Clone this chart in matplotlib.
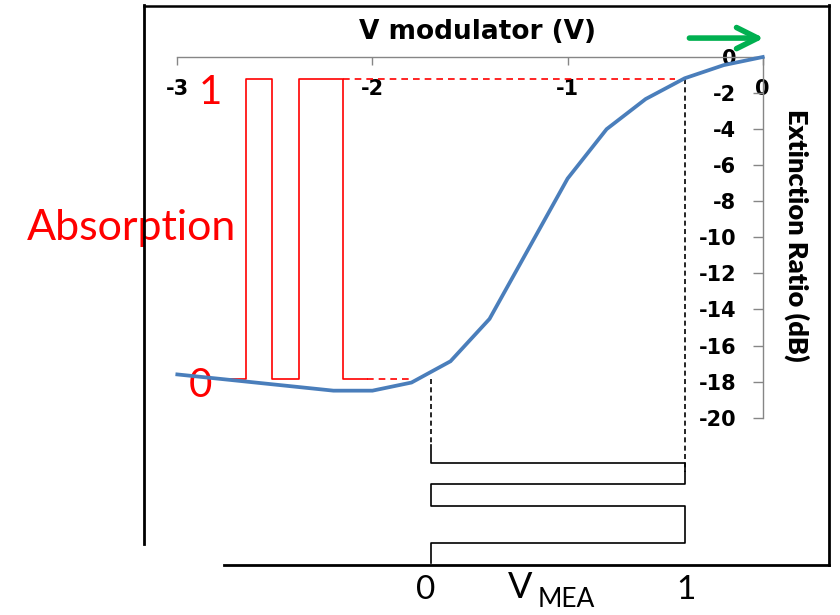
import matplotlib
matplotlib.use('Agg')
import matplotlib.pyplot as plt
from matplotlib.lines import Line2D

# ----- Data
# transfer curve of the modulator: voltage (V) -> extinction ratio (dB)
v_mod = [-3.0, -2.2, -2.0, -1.8, -1.6, -1.4, -1.0, -0.8, -0.6, -0.4, -0.2, 0.0]
er_db = [-17.6, -18.5, -18.5, -18.05, -16.87, -14.52, -6.74, -4.0, -2.33, -1.18, -0.45, 0.0]

# optical output (absorption) waveform, time axis along V modulator
abs_edges = [-2.766, -2.648, -2.515, -2.376, -2.151, -2.028]
abs_levels = [0, 1, 0, 1, 0]
abs_low_db, abs_high_db = -17.86, -1.22
abs_low_dash_end = -1.81
abs_high_dash_end = -0.45

# driving waveform V_MEA, time axis going down
mea_edges = [-21.5, -22.53, -23.7, -24.9, -26.97, -28.05]
mea_levels = [0, 1, 0, 1, 0]
mea_zero_v, mea_one_v = -1.7, -0.4

x_ticks = [-3, -2, -1, 0]
y_ticks = list(range(-20, 1, 2))

RED = '#ff0000'
BLUE = '#4a7ebb'
GRAY = '#868686'


def square_path(edges, levels, lo, hi):
    t, val = [], []
    for i, lvl in enumerate(levels):
        v = lo + (hi - lo) * lvl
        t += [edges[i], edges[i + 1]]
        val += [v, v]
    return t, val


fig = plt.figure(figsize=(8.4, 6.15), dpi=100)
ax = fig.add_axes([0.2111, 0.3208, 0.6969, 0.5865])
ax.set_xlim(-3, 0)
ax.set_ylim(-20, 0)

# axes crossing at (0, 0) like the Excel original
ax.spines['top'].set_visible(False)
ax.spines['right'].set_visible(False)
ax.spines['bottom'].set_position(('data', 0))
ax.spines['left'].set_position(('data', 0))
for s in ['bottom', 'left']:
    ax.spines[s].set_color(GRAY)
    ax.spines[s].set_linewidth(1.0)

ax.set_xticks(x_ticks)
ax.set_xticklabels([str(t) for t in x_ticks])
ax.set_yticks(y_ticks)
ax.set_yticklabels([str(t) for t in y_ticks])
ax.tick_params(axis='x', direction='out', length=6, width=1, color=GRAY, pad=10,
               labelsize=15)
ax.tick_params(axis='y', direction='out', length=7, width=1, color=GRAY, pad=12,
               labelsize=15)
for lab in ax.get_xticklabels() + ax.get_yticklabels():
    lab.set_fontweight('bold')

# blue transfer curve
ax.plot(v_mod, er_db, color=BLUE, lw=2.7, clip_on=False, zorder=4,
        solid_joinstyle='miter')

# red absorption waveform
t, val = square_path(abs_edges, abs_levels, abs_low_db, abs_high_db)
ax.plot(t, val, color=RED, lw=1.2, clip_on=False, zorder=3)
ax.plot([abs_edges[-1], abs_low_dash_end], [abs_low_db, abs_low_db], color=RED, lw=1.2,
        ls=(0, (4, 3)), clip_on=False)
ax.plot([abs_edges[-2], abs_high_dash_end], [abs_high_db, abs_high_db], color=RED, lw=1.2,
        ls=(0, (4, 3)), clip_on=False)

# V_MEA waveform
t, val = square_path(mea_edges, mea_levels, mea_zero_v, mea_one_v)
ax.plot(val, t, color='black', lw=1.2, clip_on=False)
ax.plot([mea_zero_v, mea_zero_v], [abs_low_db, mea_edges[0]], color='black', lw=1.2,
        ls=(0, (3, 2)), clip_on=False)
ax.plot([mea_one_v, mea_one_v], [abs_high_db, -23.0], color='black', lw=1.2,
        ls=(0, (3, 2)), clip_on=False)

# labels
ax.text(-1.46, 1.4, 'V modulator (V)', ha='center', va='center', fontsize=19,
        fontweight='bold', clip_on=False)
ax.text(0.176, -9.87, 'Extinction Ratio (dB)', ha='center', va='center', fontsize=19.5,
        family='Lato', fontweight='heavy', rotation=-90, clip_on=False)

ax.annotate('', xy=(0.02, 1.05), xytext=(-0.39, 1.05),
            arrowprops=dict(arrowstyle='->', color='#00b050', lw=4, mutation_scale=38),
            annotation_clip=False)

red_kw = dict(family='Lato', fontsize=29, clip_on=False, ha='center', va='center', color=RED)
ax.text(-2.83, -1.95, '1', **red_kw)
ax.text(-2.88, -18.2, '0', **red_kw)
red_kw['fontsize'] = 31
ax.text(-3.235, -9.5, 'Absorption', **red_kw)

blk_kw = dict(family='Lato', fontsize=24, clip_on=False, va='center', color='black')
ax.text(mea_zero_v - 0.03, -29.56, '0', ha='center', **blk_kw)
ax.text(mea_one_v + 0.007, -29.56, '1', ha='center', **blk_kw)
blk_kw['fontsize'] = 26
ax.text(-1.243, -29.4, 'V', ha='center', **blk_kw)
blk_kw['fontsize'] = 19
ax.text(-1.151, -30.1, 'MEA', ha='left', **blk_kw)

# frame around the drawing
fig.add_artist(Line2D([144 / 840, 829 / 840], [1 - 5.5 / 615, 1 - 5.5 / 615], color='black', lw=1.8))
fig.add_artist(Line2D([144 / 840, 144 / 840], [1 - 5 / 615, 1 - 544 / 615], color='black', lw=2.0))
fig.add_artist(Line2D([829 / 840, 829 / 840], [1 - 5 / 615, 1 - 565 / 615], color='black', lw=2.0))
fig.add_artist(Line2D([224 / 840, 829 / 840], [1 - 565 / 615, 1 - 565 / 615], color='black', lw=2.0))

fig.savefig('out.png', dpi=100)
